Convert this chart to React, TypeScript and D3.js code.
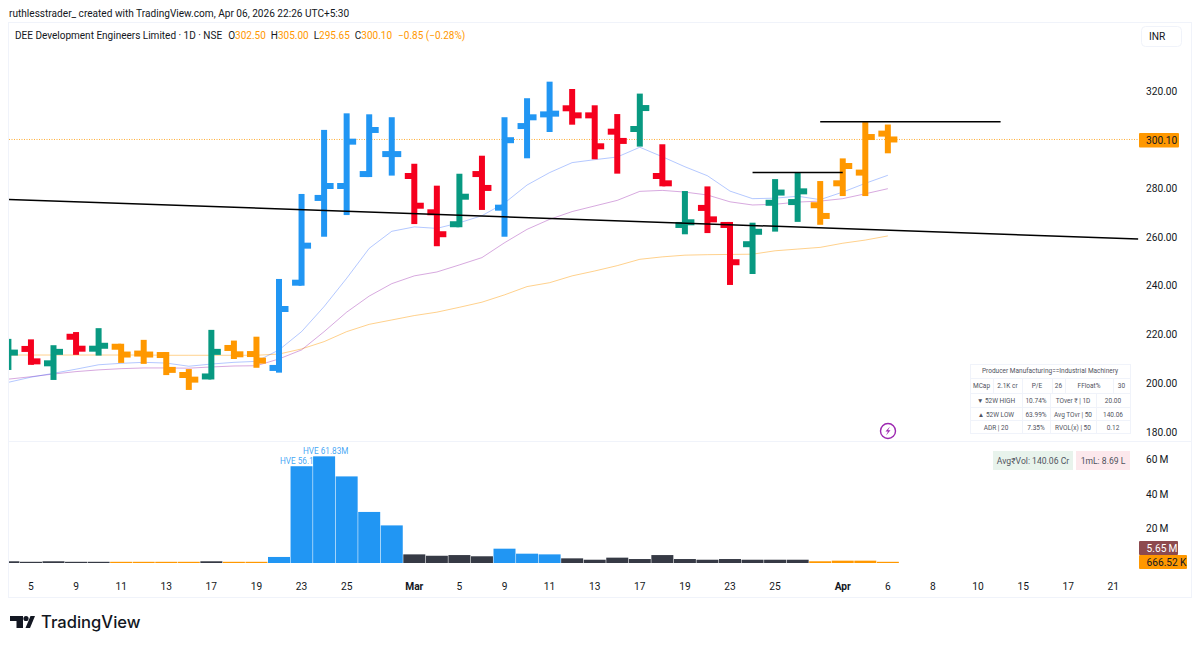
import React from "react";
import * as d3 from "d3";

// values
const opens = [208, 214.1, 208.2, 219.1, 214.2, 215, 212.2, 211.6, 203.4, 202.8, 214.5, 212, 206.3, 241.3, 276.1, 281, 285.9, 294.1, 285.1, 270.2, 265.3, 285.9, 272.1, 305.6, 310.4, 312.9, 310, 303.3, 304.4, 285.1, 265, 272, 265, 257.1, 274.1, 274.4, 273.1, 282.1, 286.5, 302.5];
const highs = [217, 216.8, 214.4, 219.8, 221.4, 215, 216.6, 211.6, 204.6, 220.7, 216.3, 217.9, 241.6, 276.5, 302.8, 309.6, 309.2, 308, 288.9, 279.9, 284.8, 292.2, 308, 315.8, 322.6, 319.6, 312.9, 309.3, 317.7, 296.9, 277.7, 279.6, 265, 264.7, 282.6, 285.2, 281.8, 291.1, 306, 305];
const lows = [206.7, 208.8, 202.6, 212.9, 212.6, 209.6, 209.2, 204.6, 198.5, 202.8, 211.2, 207.6, 205.6, 241.3, 261.4, 270.3, 285.9, 286.5, 266.6, 257.5, 265.3, 272.4, 261.4, 293.6, 304.4, 307.4, 293.2, 287.3, 298.4, 282.1, 262.4, 262.9, 241.6, 246.1, 263.5, 267.5, 266.3, 278.1, 278.1, 295.65];
const closes = [212.6, 209, 212.9, 214.2, 215.4, 211.8, 211.8, 205.5, 201.5, 212.9, 211.9, 209.3, 230.5, 256.5, 281, 299.2, 304, 294.1, 272.9, 261.2, 276.6, 280.2, 299.8, 309.2, 310.7, 310, 297.3, 299.5, 313, 282.1, 266.1, 267.3, 249.7, 262.2, 278.3, 278.8, 268.7, 289.2, 301.1, 300.1];
const barKinds = "grgrgoooogoobbbbbbrrgrbbbrrrgrgrrgggoooo".split("");
const volKinds = "dddddoooodoobbbbbbddddbbbdddddddddddoooo".split("");
const volumes = [1, 0.7, 1, 0.7, 0.7, 0.5, 0.5, 0.5, 0.5, 1, 0.5, 0.5, 3.5, 56.1, 61.83, 50.2, 29.6, 21.8, 5, 4.2, 4.6, 3.9, 8.3, 5.4, 5, 2.7, 1.9, 3.1, 2.3, 4.6, 2.3, 1.9, 2.3, 1.9, 1.9, 1.9, 1, 1.35, 1.35, 0.67];

const maBlue = [200.4, 202.5, 204.1, 205.8, 207.6, 208.2, 208.6, 208.3, 207, 207.9, 208.6, 209, 213.7, 221.2, 231.5, 243.1, 255.4, 262.4, 264.2, 263.6, 265.9, 268.8, 274, 281.4, 286.5, 290.6, 291.8, 292.9, 296.9, 293, 288.9, 285.2, 278.9, 275.8, 276, 276.8, 275.4, 278.5, 282.1, 285.4];
const maPurple = [201.7, 202.7, 203.8, 204.8, 205.5, 206, 206.3, 206.3, 206.2, 206.7, 207.1, 207.2, 210, 213.7, 221.2, 229.2, 235.8, 240.9, 244.1, 245.7, 248.6, 251.6, 257.7, 263.2, 267.3, 270.5, 272.8, 275.1, 278.8, 279.2, 278.5, 277.3, 274.5, 273.2, 273.5, 274.4, 274.8, 275.8, 277.8, 279.9];
const maOrange = [211.6, 211.6, 211.6, 211.6, 211.6, 211.6, 211.6, 211.5, 211.5, 211.5, 211.5, 211.5, 212, 214.1, 217.1, 221.2, 224.2, 226, 227.8, 229.2, 231.2, 233.3, 236.3, 239.7, 241.3, 244.1, 246.1, 248.3, 250.9, 251.9, 252.6, 252.8, 252.9, 253, 254.4, 255.1, 255.8, 257.5, 258.8, 260.5];

const priceTicks = [320, 300, 280, 260, 240, 220, 200, 180];
const volumeTicks = [60, 40, 20];
const timeTicks: [number, string][] = [
  [1, "5"], [3, "9"], [5, "11"], [7, "13"], [9, "17"], [11, "19"], [13, "23"], [15, "25"], [18, "Mar"],
  [20, "5"], [22, "9"], [24, "11"], [26, "13"], [28, "17"], [30, "19"], [32, "23"], [34, "25"], [37, "Apr"],
  [39, "6"], [41, "8"], [43, "10"], [45, "15"], [47, "17"], [49, "21"],
];
// [index from, price from, index to, price to]
const trendLines = [
  [0, 275.5, 50.1, 259.2],
  [33, 286.5, 37, 286.5],
  [36, 307.4, 44, 307.4],
];

const tableRow2 = [["MCap", 970, 993], ["2.1K cr", 993, 1022], ["P/E", 1022, 1052], ["26", 1052, 1065], ["FFloat%", 1065, 1113], ["30", 1113, 1130]] as const;
const tableRows = [
  ["▼ 52W HIGH", "10.74%", "TOver ₹ | 1D", "20.00"],
  ["▲ 52W LOW", "63.99%", "Avg TOvr | 50", "140.06"],
  ["ADR | 20", "7.35%", "RVOL(x) | 50", "0.12"],
];
const tableColumns = [970, 1022, 1050, 1096, 1130];
const tableRowTops = [393, 407, 420, 433];

const colors: Record<string, string> = { g: "#089981", r: "#f5001e", b: "#2196f3", o: "#ff9800", d: "#363a45" };
const font = "Roboto, sans-serif";
const textColor = "#131722";
const axisSize = 10.2;

const x = d3.scaleLinear().domain([0, 1]).range([8.4, 30.95]);
const y = d3.scaleLinear().domain([180, 320]).range([432, 91]);
const yVol = d3.scaleLinear().domain([0, 60]).range([563, 459.5]);
const maLine = d3.line<number>().x((_, i) => x(i)).y((d) => y(d)).curve(d3.curveLinear);

const grid = "#f0f3fa";

export default function App() {
  const barW = 22;
  return (
    <svg width={1200} height={647} style={{ position: "fixed", left: 0, top: 0, background: "#fff" }} fontFamily={font}>
      <defs>
        <clipPath id="pricePane"><rect x={9} y={23} width={1130} height={418} /></clipPath>
        <clipPath id="volPane"><rect x={9} y={442} width={1130} height={124} /></clipPath>
      </defs>

      <text x={9} y={17} fontSize={10.1} fill={textColor}>ruthlesstrader_ created with TradingView.com, Apr 06, 2026 22:26 UTC+5:30</text>

      {/* frame */}
      <rect x={8.5} y={22.5} width={1183} height={575} fill="none" stroke={grid} />
      <line x1={9} x2={1191} y1={441.5} y2={441.5} stroke={grid} />

      {/* header */}
      <text x={15} y={39} fontSize={10} fill={textColor}>
        DEE Development Engineers Limited · 1D · NSE
        <tspan dx={6}>O</tspan><tspan fill="#ff9800">302.50</tspan>
        <tspan dx={5}>H</tspan><tspan fill="#ff9800">305.00</tspan>
        <tspan dx={5}>L</tspan><tspan fill="#ff9800">295.65</tspan>
        <tspan dx={5}>C</tspan><tspan fill="#ff9800">300.10</tspan>
        <tspan dx={6} fill="#ff9800">−0.85 (−0.28%)</tspan>
      </text>

      <g clipPath="url(#pricePane)">
        <line x1={9} x2={1139} y1={y(300.1)} y2={y(300.1)} stroke="#ff9800" strokeOpacity={0.8} strokeDasharray="1 1.5" />
        <path d={maLine(maOrange)!} fill="none" stroke="#ff9800" strokeOpacity={0.45} strokeWidth={1} />
        <path d={maLine(maPurple)!} fill="none" stroke="#9c27b0" strokeOpacity={0.4} strokeWidth={1} />
        <path d={maLine(maBlue)!} fill="none" stroke="#2962ff" strokeOpacity={0.35} strokeWidth={1} />

        {opens.map((o, i) => (
          <g key={i} stroke={colors[barKinds[i]]} strokeWidth={6}>
            <line x1={x(i)} x2={x(i)} y1={y(highs[i])} y2={y(lows[i])} strokeLinecap="square" />
            <line x1={x(i) - 9.5} x2={x(i)} y1={y(o)} y2={y(o)} />
            <line x1={x(i)} x2={x(i) + 9.5} y1={y(closes[i])} y2={y(closes[i])} />
          </g>
        ))}

        {trendLines.map(([a, p, b, q], i) => (
          <line key={i} x1={x(a)} x2={x(b)} y1={y(p)} y2={y(q)} stroke="#000" strokeWidth={1.5} />
        ))}
      </g>

      {/* info table */}
      <g fontSize={6.5} fill="#50535e" textAnchor="middle">
        <rect x={970.5} y={364.5} width={160} height={69} fill="#fff" stroke={grid} />
        <text x={1050} y={373}>Producer Manufacturing==Industrial Machinery</text>
        <line x1={970} x2={1131} y1={378.5} y2={378.5} stroke={grid} />
        {tableRow2.map(([label, a, b]) => (
          <g key={label}>
            <line x1={b + 0.5} x2={b + 0.5} y1={378} y2={393} stroke={grid} />
            <text x={(a + b) / 2} y={388}>{label}</text>
          </g>
        ))}
        {tableRows.map((row, r) => (
          <g key={r}>
            <line x1={970} x2={1131} y1={tableRowTops[r] + 0.5} y2={tableRowTops[r] + 0.5} stroke={grid} />
            {row.map((cell, c) => (
              <g key={c}>
                {c > 0 && <line x1={tableColumns[c] + 0.5} x2={tableColumns[c] + 0.5} y1={tableRowTops[r]} y2={tableRowTops[r + 1]} stroke={grid} />}
                <text x={(tableColumns[c] + tableColumns[c + 1]) / 2} y={tableRowTops[r] + 9.5}>{cell}</text>
              </g>
            ))}
          </g>
        ))}
      </g>

      {/* lightning badge */}
      <circle cx={888} cy={431} r={7.5} fill="#fff" stroke="#9c27b0" strokeWidth={1.4} />
      <path d="M890 426.5 L885.5 431.5 L888 431.5 L886 435.5 L890.5 430.3 L888 430.3 Z" fill="#9c27b0" />

      {/* price axis */}
      <g fontSize={axisSize} fill={textColor}>
        {priceTicks.map((t) => (
          <text key={t} x={1146} y={y(t) + 3.6}>{t.toFixed(2)}</text>
        ))}
      </g>
      <rect x={1141.5} y={26.5} width={40} height={20} rx={4} fill="#fff" stroke={grid} />
      <text x={1149} y={40} fontSize={axisSize} fill={textColor}>INR</text>
      <rect x={1139} y={133} width={40} height={14.5} rx={1} fill="#ff9800" />
      <text x={1146} y={144} fontSize={axisSize} fill={textColor}>300.10</text>

      {/* volume pane */}
      <g fontSize={8.2} fill="#2196f3" fillOpacity={0.85}>
        <text x={280} y={464}>HVE 56.1</text>
        <text x={303} y={454}>HVE 61.83M</text>
      </g>
      <g clipPath="url(#volPane)">
        {volumes.map((v, i) => {
          const h = Math.max(yVol(0) - yVol(v), 1.2);
          return <rect key={i} x={x(i) - barW / 2} y={yVol(0) - h} width={barW} height={h} fill={colors[volKinds[i]]} />;
        })}
      </g>

      <rect x={993} y={451} width={80} height={19} fill="#e8f3ec" />
      <text x={1033} y={463.5} fontSize={8.6} fill="#50535e" textAnchor="middle">Avg₹Vol: 140.06 Cr</text>
      <rect x={1076} y={451} width={54} height={19} fill="#fce8ec" />
      <text x={1103} y={463.5} fontSize={8.6} fill="#50535e" textAnchor="middle">1mL: 8.69 L</text>

      <g fontSize={axisSize} fill={textColor}>
        {volumeTicks.map((t) => (
          <text key={t} x={1146} y={yVol(t) + 3.6}>{t}{"\u2009"}M</text>
        ))}
      </g>
      <rect x={1139} y={541} width={39} height={14} rx={1} fill="#8d4a4e" />
      <text x={1146.5} y={551.6} fontSize={axisSize} fill="#fff">5.65{"\u2009"}M</text>
      <rect x={1139} y={555} width={48} height={14} rx={1} fill="#ff9800" />
      <text x={1146.5} y={565.6} fontSize={axisSize} fill={textColor}>666.52{"\u2009"}K</text>

      {/* time axis */}
      <g fontSize={axisSize} fill={textColor} textAnchor="middle">
        {timeTicks.map(([i, label], k) => (
          <text key={k} x={x(i)} y={589.5} fontWeight={label === "Mar" || label === "Apr" ? 700 : 400}>{label}</text>
        ))}
      </g>

      {/* logo */}
      <g fill="#131722">
        <path d="M10 616 H23 V628 H16.5 V621 H10 Z" />
        <circle cx={26} cy={618.5} r={2.6} />
        <path d="M25.5 628 L30.5 616 H35 L30 628 Z" />
      </g>
      <text x={41} y={628} fontSize={16.6} fontWeight={500} fontFamily="Inter, sans-serif" fill="#131722">TradingView</text>
    </svg>
  );
}
